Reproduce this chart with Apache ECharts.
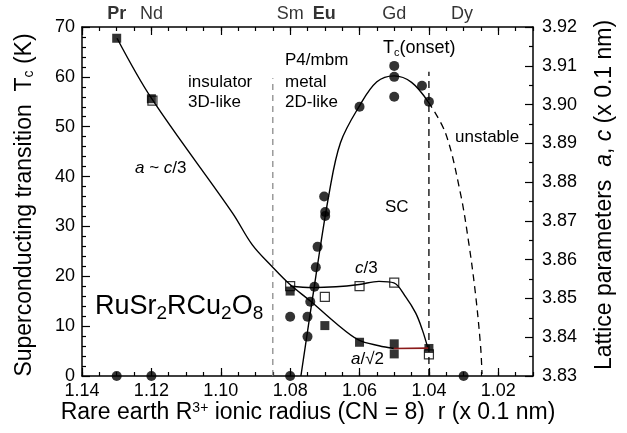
<!DOCTYPE html>
<html><head><meta charset="utf-8">
<script src="https://cdn.jsdelivr.net/npm/echarts@6/dist/echarts.min.js"></script>
<style>html,body{margin:0;padding:0;background:#fff}#c{width:627px;height:433px}</style>
</head><body><div id="c"></div>
<script>
const FONT = '"Liberation Sans", Arial, Helvetica, sans-serif';

// ionic radius r (x 0.1 nm), Tc (K): onset of superconductivity
const tcPoints = [
  [1.13, 0], [1.12, 0], [1.08, 0], [1.03, 0],
  [1.0702, 36.0], [1.0699, 32.9], [1.0699, 32.1], [1.0721, 25.9],
  [1.0726, 21.8], [1.073, 17.9], [1.0742, 14.9], [1.08, 11.9],
  [1.075, 11.9], [1.075, 7.9],
  [1.05, 62.2], [1.05, 60.0], [1.05, 56.0], [1.06, 54.0],
  [1.042, 58.2], [1.04, 55.0]
];
// guide curve through Tc(onset), stable part
const tcCurve = [
  [1.0769, 0], [1.0726, 20], [1.0688, 36.5], [1.0655, 46.8],
  [1.06, 54.2], [1.055, 59.0], [1.05, 60.2], [1.045, 58.9],
  [1.0402, 55.0]
];
// extrapolated part (unstable region)
const tcCurveDashed = [
  [1.0402, 55.0], [1.0352, 48.7], [1.0309, 36.6],
  [1.0285, 26.6], [1.0266, 16.6], [1.0251, 5.9], [1.0247, 0.4]
];
// lattice parameter a (or a/sqrt2), x 0.1 nm
const aPoints = [
  [1.13, 3.9171], [1.12, 3.9015], [1.08, 3.8519], [1.07, 3.8430],
  [1.06, 3.8387], [1.05, 3.8383], [1.05, 3.8357], [1.04, 3.8371]
];
// lattice parameter c/3, x 0.1 nm
const cPoints = [
  [1.1197, 3.9010], [1.08, 3.8532], [1.07, 3.8504], [1.06, 3.8532],
  [1.05, 3.8541], [1.04, 3.8356]
];
const aCurve = [
  [1.1299, 3.9171], [1.1199, 3.9015], [1.0966, 3.8720], [1.0909, 3.8638],
  [1.0851, 3.8581], [1.0802, 3.8537], [1.074, 3.8492], [1.0668, 3.8436],
  [1.0603, 3.8393], [1.0544, 3.8378], [1.0501, 3.8371]
];
const cCurve = [
  [1.08, 3.8532], [1.0736, 3.8528], [1.0668, 3.8530], [1.0601, 3.8536],
  [1.0544, 3.8544], [1.0501, 3.8540], [1.0467, 3.8504], [1.0438, 3.8462],
  [1.0419, 3.8419], [1.0402, 3.8369]
];
const orthoLine = [[1.0501, 3.8371], [1.0402, 3.8372]];
// phase boundaries
const insulatorBoundary = [[1.085, 0], [1.085, 59.7]];
const stabilityBoundary = [[1.04, 0], [1.04, 61.0]];
// rare earth markers along the top axis
const elementNames = ['Pr', 'Nd', 'Sm', 'Eu', 'Gd', 'Dy'];
const elementRadius = [1.13, 1.12, 1.08, 1.0702, 1.05, 1.0305];
const elementBold = [true, false, false, true, false, false];
// axis tick labels
const xTickLabels = [1.14, 1.12, 1.10, 1.08, 1.06, 1.04, 1.02];

const X_MIN = 1.01, X_MAX = 1.14;
const TITLE_FONT = '23px ' + FONT;

function xAxisDef(position, major, withLabels) {
  const ax = {
    type: 'value', position: position, min: X_MIN, max: X_MAX, inverse: true,
    interval: 0.005,
    axisLine: { show: !major, lineStyle: { color: '#000', width: 1.5 } },
    axisTick: { inside: true, length: major ? 8 : 4, lineStyle: { color: '#000', width: 1.2 } },
    axisLabel: { show: false },
    splitLine: { show: false }
  };
  if (major) ax.axisTick.customValues = xTickLabels;
  if (withLabels) {
    ax.axisLabel = {
      show: true, customValues: xTickLabels, formatter: v => v.toFixed(2),
      fontSize: 18, color: '#000', fontFamily: FONT, margin: 6
    };
  }
  return ax;
}

const chart = echarts.init(document.getElementById('c'), null, { renderer: 'canvas' });

const elementData = elementNames.map((n, i) => ({
  value: [elementRadius[i], 70], name: n,
  label: { fontWeight: elementBold[i] ? 'bold' : 'normal' }
}));

const lineCommon = { symbol: 'none', smooth: 0.35 };

chart.setOption({
  animation: false,
  backgroundColor: '#fff',
  grid: { left: 82, right: 94, top: 27, bottom: 57, containLabel: false },
  xAxis: [
    xAxisDef('bottom', false, true),
    xAxisDef('bottom', true, false),
    xAxisDef('top', false, false),
    xAxisDef('top', true, false)
  ],
  yAxis: [
    {
      type: 'value', position: 'left', min: 0, max: 70, interval: 10,
      axisLine: { show: true, lineStyle: { color: '#000', width: 1.5 } },
      axisTick: { inside: true, length: 8, lineStyle: { color: '#000', width: 1.2 } },
      minorTick: { show: true, splitNumber: 5, length: 4, lineStyle: { color: '#000', width: 1.2 } },
      axisLabel: { fontSize: 18, color: '#000', fontFamily: FONT, margin: 7 },
      splitLine: { show: false }
    },
    {
      type: 'value', position: 'right', min: 3.83, max: 3.92, interval: 0.01,
      axisLine: { show: true, lineStyle: { color: '#000', width: 1.5 } },
      axisTick: { inside: true, length: 8, lineStyle: { color: '#000', width: 1.2 } },
      minorTick: { show: true, splitNumber: 2, length: 4, lineStyle: { color: '#000', width: 1.2 } },
      axisLabel: { fontSize: 18, color: '#000', fontFamily: FONT, margin: 9, formatter: v => v.toFixed(2) },
      splitLine: { show: false }
    }
  ],
  series: [
    {
      type: 'line', name: 'boundary-insulator', data: insulatorBoundary, yAxisIndex: 0,
      symbol: 'none', lineStyle: { color: '#8a8a8a', width: 1.3, type: [6, 5] }
    },
    {
      type: 'line', name: 'boundary-stability', data: stabilityBoundary, yAxisIndex: 0,
      symbol: 'none', lineStyle: { color: '#000', width: 1.3, type: [7, 5] }
    },
    Object.assign({ type: 'line', name: 'a curve', data: aCurve, yAxisIndex: 1,
      lineStyle: { color: '#000', width: 1.4 } }, lineCommon),
    Object.assign({ type: 'line', name: 'c curve', data: cCurve, yAxisIndex: 1,
      lineStyle: { color: '#000', width: 1.4 } }, lineCommon),
    {
      type: 'line', name: 'orthorhombic', data: orthoLine, yAxisIndex: 1,
      symbol: 'none', lineStyle: { color: '#8b1a1a', width: 1.6 }
    },
    Object.assign({ type: 'line', name: 'Tc curve', data: tcCurve, yAxisIndex: 0,
      lineStyle: { color: '#000', width: 1.4 } }, lineCommon),
    Object.assign({ type: 'line', name: 'Tc extrapolated', data: tcCurveDashed, yAxisIndex: 0,
      lineStyle: { color: '#000', width: 1.3, type: [7, 5] } }, lineCommon),
    {
      type: 'scatter', name: 'c/3', data: cPoints, yAxisIndex: 1,
      symbol: 'rect', symbolSize: 9,
      itemStyle: { color: '#fff', borderColor: '#000', borderWidth: 1.2 }
    },
    {
      type: 'scatter', name: 'a', data: aPoints, yAxisIndex: 1,
      symbol: 'rect', symbolSize: 9,
      itemStyle: { color: '#000' }
    },
    {
      type: 'scatter', name: 'Tc', data: tcPoints, yAxisIndex: 0,
      symbol: 'circle', symbolSize: 10, clip: false,
      itemStyle: { color: '#000' }
    },
    {
      type: 'scatter', name: 'elements', data: elementData, yAxisIndex: 0,
      symbolSize: 1, clip: false, itemStyle: { color: 'rgba(0,0,0,0)' },
      label: {
        show: true, position: 'top', distance: 3, formatter: p => p.name,
        fontSize: 18, color: '#000', fontFamily: FONT
      },
      silent: true
    }
  ],
  graphic: [
    // axis titles
    { type: 'text', x: 308, y: 413, style: {
        text: 'Rare earth R{sup|3+} ionic radius (CN = 8)  r (x 0.1 nm)', font: TITLE_FONT, fill: '#000',
        align: 'center', verticalAlign: 'middle',
        rich: { sup: { font: '14px ' + FONT, fill: '#000', verticalAlign: 'top', padding: [0, 0, 9, 0] } } } },
    { type: 'text', x: 25, y: 205, rotation: Math.PI / 2, style: {
        text: 'Superconducting transition  T{sub|c} (K)', font: TITLE_FONT, fill: '#000',
        align: 'center', verticalAlign: 'middle',
        rich: { sub: { font: '14px ' + FONT, fill: '#000', verticalAlign: 'bottom', padding: [9, 0, 0, 0] } } } },
    { type: 'text', x: 605, y: 195, rotation: Math.PI / 2, style: {
        text: 'Lattice parameters  {i|a}, {i|c} (x 0.1 nm)', font: TITLE_FONT, fill: '#000',
        align: 'center', verticalAlign: 'middle',
        rich: { i: { font: 'italic 23px ' + FONT, fill: '#000' } } } },
    // annotations
    { type: 'text', x: 188, y: 82, style: { text: 'insulator', font: '17px ' + FONT, fill: '#000', verticalAlign: 'middle' } },
    { type: 'text', x: 188, y: 102, style: { text: '3D-like', font: '17px ' + FONT, fill: '#000', verticalAlign: 'middle' } },
    { type: 'text', x: 285, y: 60, style: { text: 'P4/mbm', font: '17px ' + FONT, fill: '#000', verticalAlign: 'middle' } },
    { type: 'text', x: 285, y: 82, style: { text: 'metal', font: '17px ' + FONT, fill: '#000', verticalAlign: 'middle' } },
    { type: 'text', x: 285, y: 102, style: { text: '2D-like', font: '17px ' + FONT, fill: '#000', verticalAlign: 'middle' } },
    { type: 'text', x: 383, y: 48, style: {
        text: 'T{s|c}(onset)', font: '18px ' + FONT, fill: '#000', verticalAlign: 'middle',
        rich: { s: { font: '11px ' + FONT, fill: '#000', verticalAlign: 'bottom', padding: [9, 0, 0, 0] } } } },
    { type: 'text', x: 455, y: 137, style: { text: 'unstable', font: '17px ' + FONT, fill: '#000', verticalAlign: 'middle' } },
    { type: 'text', x: 385, y: 207, style: { text: 'SC', font: '17px ' + FONT, fill: '#000', verticalAlign: 'middle' } },
    { type: 'text', x: 355, y: 268, style: {
        text: '{i|c}/3', font: '17px ' + FONT, fill: '#000', verticalAlign: 'middle',
        rich: { i: { font: 'italic 17px ' + FONT, fill: '#000' } } } },
    { type: 'text', x: 351, y: 359, style: {
        text: '{i|a}/\u221A2', font: '17px ' + FONT, fill: '#000', verticalAlign: 'middle',
        rich: { i: { font: 'italic 17px ' + FONT, fill: '#000' } } } },
    { type: 'text', x: 135, y: 168, style: {
        text: '{i|a} ~ {i|c}/3', font: '17px ' + FONT, fill: '#000', verticalAlign: 'middle',
        rich: { i: { font: 'italic 17px ' + FONT, fill: '#000' } } } },
    { type: 'text', x: 95, y: 307, style: {
        text: 'RuSr{s|2}RCu{s|2}O{s|8}', font: '27px ' + FONT, fill: '#000', verticalAlign: 'middle',
        rich: { s: { font: '19px ' + FONT, fill: '#000', verticalAlign: 'bottom', padding: [14, 0, 0, 0] } } } }
  ]
});
</script>
</body></html>
